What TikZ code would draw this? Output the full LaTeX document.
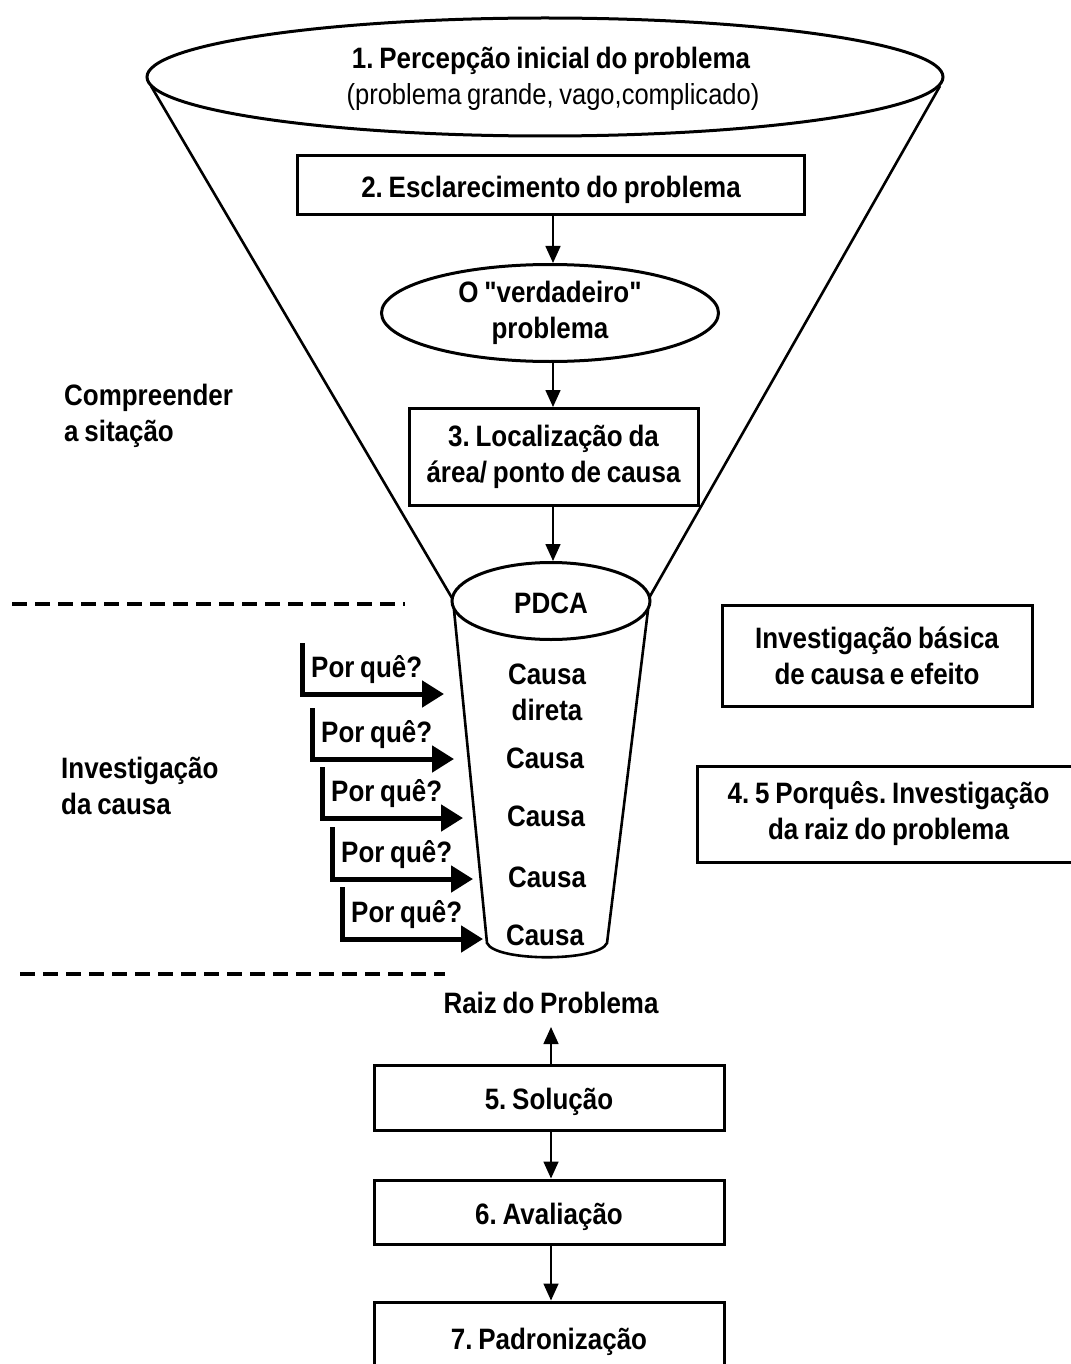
\documentclass[tikz,border=0pt]{standalone}
\usepackage{fontspec}
\setmainfont{Liberation Sans}[FakeStretch=0.88, Ligatures=TeXOff, WordSpace=0.8]
\frenchspacing
\usetikzlibrary{shapes.geometric,arrows.meta}
\begin{document}
\begin{tikzpicture}[x=1pt,y=-1pt,
  txt/.style={font=\fontsize{29.5}{36}\selectfont\bfseries, align=center, inner sep=0pt},
  ltxt/.style={font=\fontsize{29.5}{36}\selectfont\bfseries, align=left, inner sep=0pt, anchor=west},
  boxnode/.style={draw, line width=3pt, rectangle, txt},
  onebox/.style={boxnode, text height=24pt, text depth=0pt},
  ellnode/.style={draw, line width=3pt, ellipse, txt},
  flow/.style={line width=1.6pt, -{Triangle[length=17pt,width=15pt]}},
  why/.style={line width=5pt, -{Triangle[length=22pt,width=26pt]}},
  sep/.style={line width=4pt, dash pattern=on 15pt off 8pt},
  funnel/.style={line width=2.6pt}]
\useasboundingbox (0,0) rectangle (1070,1364);
\fill[white] (0,0) rectangle (1070,1364);

% funnel walls
\coordinate (fl1) at (151,86);
\coordinate (fl2) at (452,598);
\coordinate (fr1) at (940,86);
\coordinate (fr2) at (649,598);
\draw[funnel] (fl1) -- (fl2);
\draw[funnel] (fr1) -- (fr2);

% top rim of the funnel
\node[ellnode, minimum width=796pt, minimum height=118pt] (top) at (545,77) {};
\node[txt] (t1) at (551,61) {1. Percepção inicial do problema};
\node[font=\fontsize{29}{30}\selectfont, inner sep=0pt] (t1b) at (553,97) {(problema grande, vago,complicado)};

% neck (PDCA) and tube
\coordinate (tl1) at (454,610);
\coordinate (tl2) at (487,943);
\coordinate (tr1) at (648,610);
\coordinate (tr2) at (607,943);
\draw[funnel] (tl1) -- (tl2) .. controls (495,962) and (599,962) .. (tr2) -- (tr1);
\node[ellnode, minimum width=198pt, minimum height=77pt, fill=white] (pdca) at (551,601) {};
\node[txt] at (551,603) {PDCA};

% steps inside the funnel
\node[onebox, minimum width=507pt, minimum height=59pt] (b2) at (551,185.5) {2. Esclarecimento do problema};
\node[ellnode, minimum width=337pt, minimum height=97pt, inner sep=0pt] (ver) at (550,313) {O "verdadeiro"\\problema};
\node[boxnode, minimum width=289pt, minimum height=97pt] (b3) at (553.5,457) {3. Localização da\\área/ ponto de causa};

% causes in the tube
\node[txt] (c0) at (547,692) {Causa\\direta};
\node[txt] (c1) at (545,758) {Causa};
\node[txt] (c2) at (546,816) {Causa};
\node[txt] (c3) at (547,877) {Causa};
\node[txt] (c4) at (545,935) {Causa};

% left labels
\node[ltxt] (comp) at (64,416) {Compreender\\a sitação};
\node[ltxt] (inv) at (61,786) {Investigação\\da causa};

% dashed separators
\coordinate (s1a) at (12,604);
\coordinate (s1b) at (405,604);
\coordinate (s2a) at (20,974);
\coordinate (s2b) at (445,974);
\draw[sep] (s1a) -- (s1b);
\draw[sep] (s2a) -- (s2b);

% right-hand boxes
\node[boxnode, minimum width=310pt, minimum height=101pt] (ib) at (877,655.5) {Investigação básica\\de causa e efeito};
\node[boxnode, minimum width=383pt, minimum height=96pt] (b4) at (888.5,814) {4. 5 Porquês. Investigação\\da raiz do problema};

% the five "why" arrows
\foreach \i/\x/\ytop/\ybot/\tip in {1/302/643/694/444, 2/312/708/759/454, 3/322/767/818/463, 4/332/827/879/473, 5/342/887/939/483}{
  \coordinate (w\i a) at (\x,\ytop);
  \coordinate (w\i b) at (\x,\ybot);
  \coordinate (w\i c) at (\tip,\ybot);
  \draw[why] (w\i a) -- (w\i b) -- (w\i c);
  \node[txt, anchor=south west] (q\i) at (\x+9,\ybot-10) {Por quê?};
}

% root and following steps
\node[txt, inner ysep=13pt] (raiz) at (551,1003) {Raiz do Problema};
\node[onebox, minimum width=350pt, minimum height=65pt] (b5) at (549,1097.5) {5. Solução};
\node[onebox, minimum width=350pt, minimum height=64pt] (b6) at (549,1212) {6. Avaliação};
\node[onebox, minimum width=350pt, minimum height=70pt] (b7) at (549,1337) {7. Padronização};

% connectors
\draw[flow] (b2.south -| 553,0) -- (ver.north -| 553,0);
\draw[flow] (ver.south -| 553,0) -- (b3.north -| 553,0);
\draw[flow] (b3.south -| 553,0) -- (pdca.north -| 553,0);
\draw[flow] (b5.north -| 551,0) -- (raiz.south -| 551,0);
\draw[flow] (b5.south -| 551,0) -- (b6.north -| 551,0);
\draw[flow] (b6.south -| 551,0) -- (b7.north -| 551,0);
\end{tikzpicture}
\end{document}
